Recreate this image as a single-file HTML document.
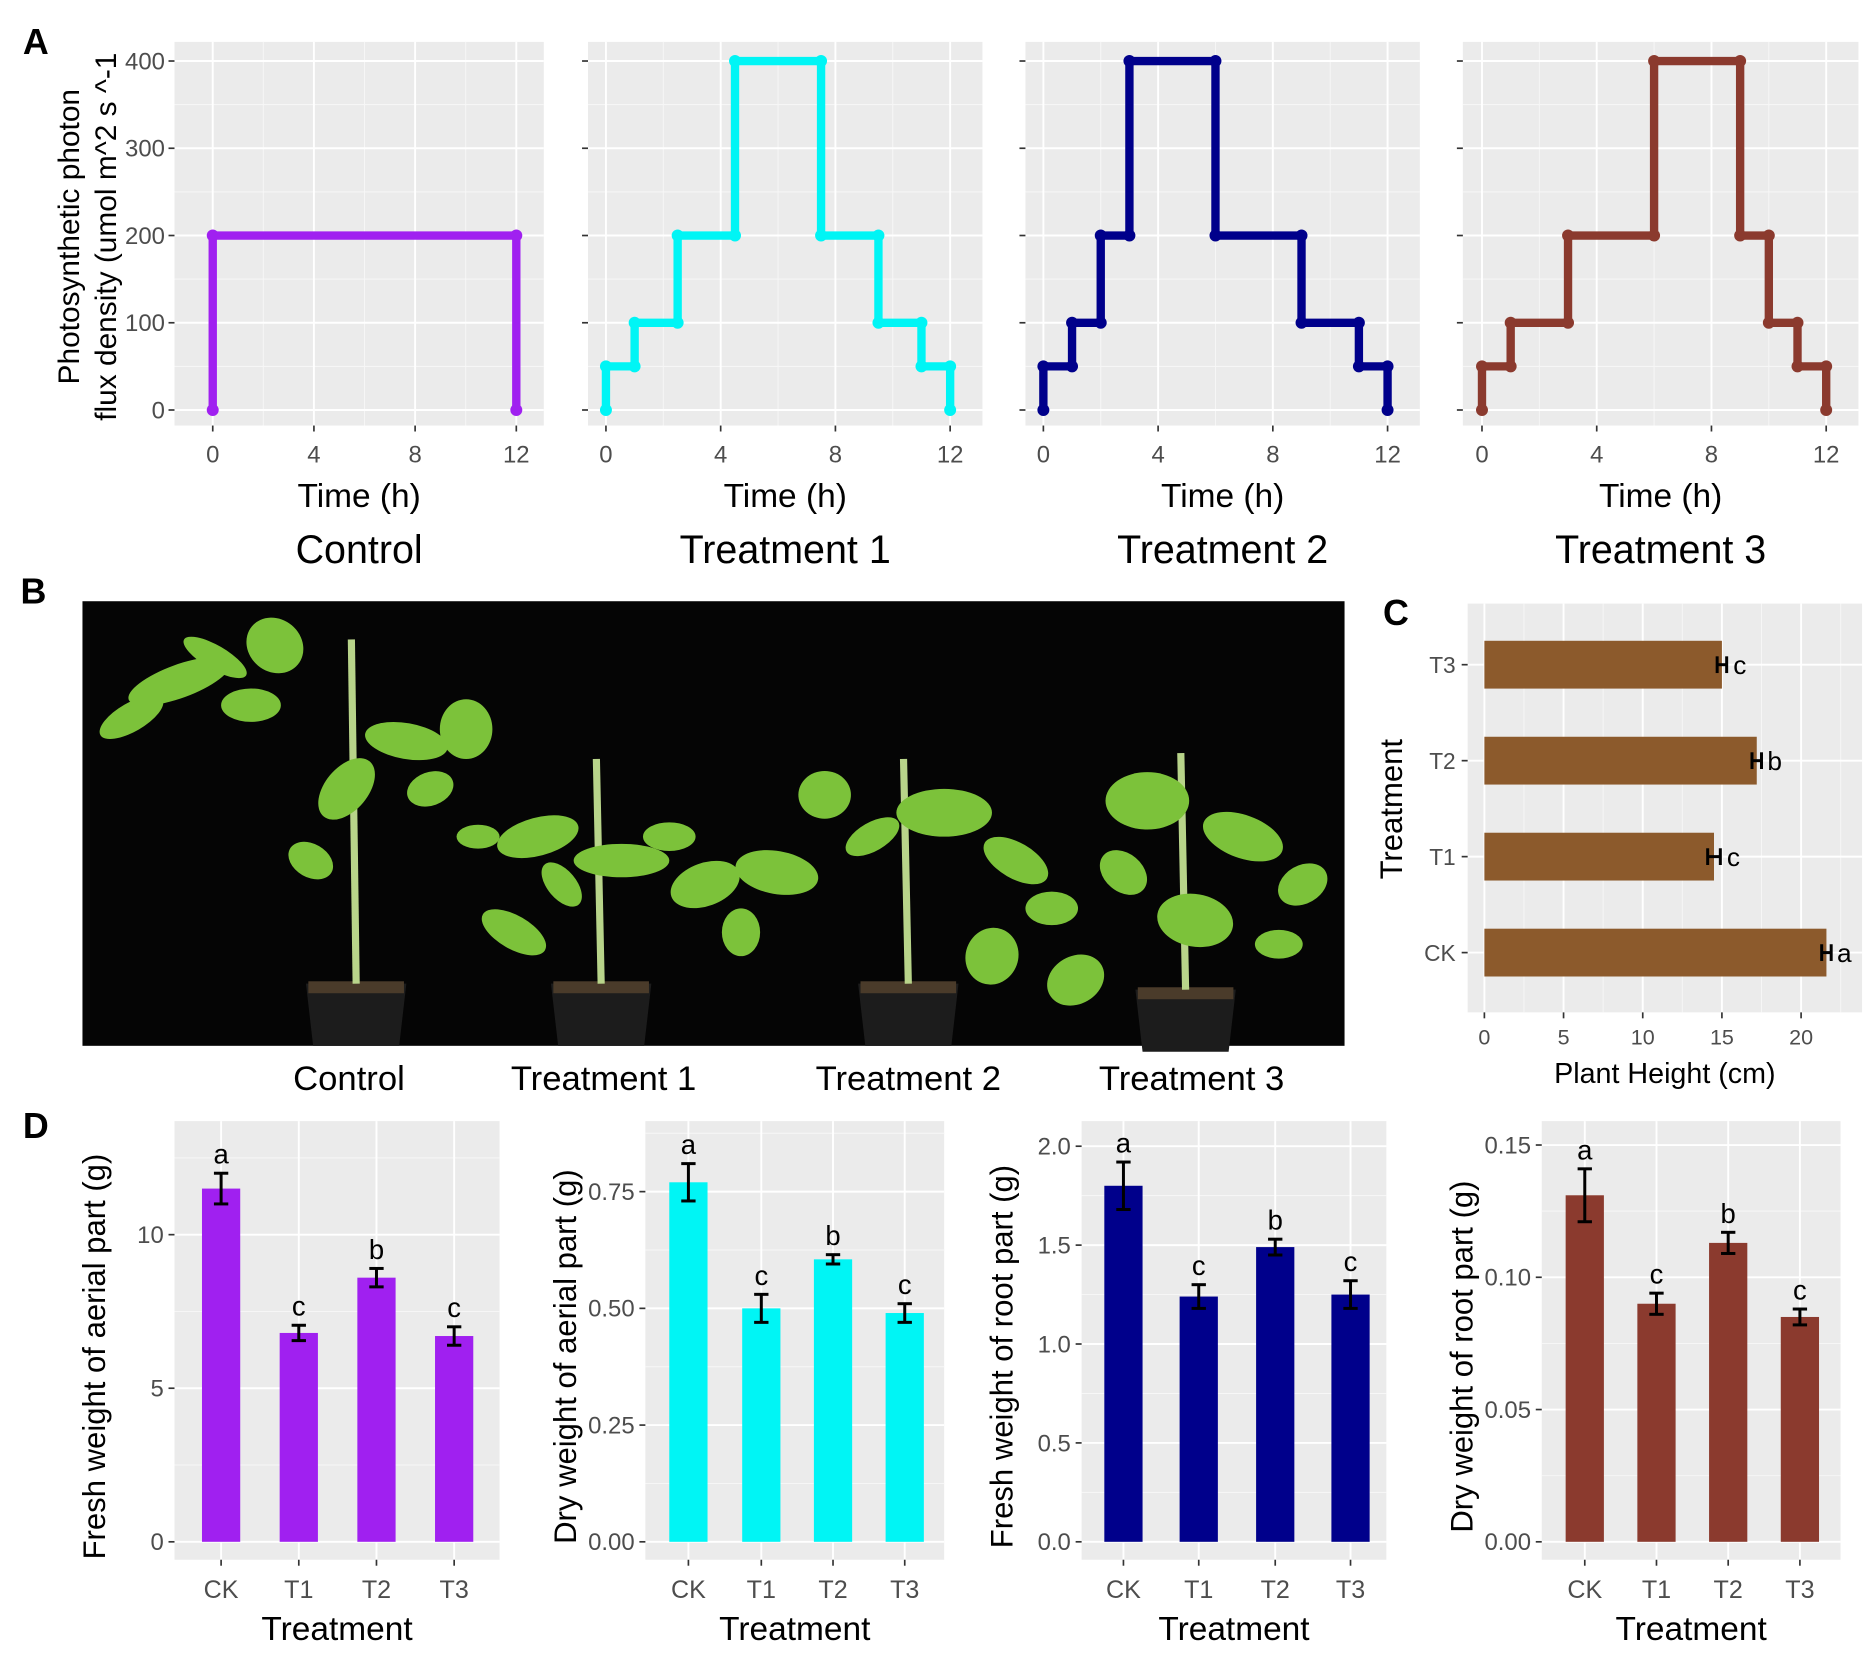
<!DOCTYPE html>
<html><head><meta charset="utf-8"><style>
html,body{margin:0;padding:0;background:#fff;}
svg{display:block;font-family:"Liberation Sans",sans-serif;}
</style></head><body>
<svg id="fig" width="1874" height="1659" viewBox="0 0 1568 1388" xmlns="http://www.w3.org/2000/svg"></svg>
<script>
// ---- Panel A data (light schedules: hour breakpoints and PPFD levels) ----
const aTitles = ["Control","Treatment 1","Treatment 2","Treatment 3"];
const aColors = ["#a020f0","#00f5f5","#00008b","#8b3a2e"];
const aTimes = [
  [0,12],
  [0,1,2.5,4.5,7.5,9.5,11,12],
  [0,1,2,3,6,9,11,12],
  [0,1,3,6,9,10,11,12]
];
const aLevels = [
  [200],
  [50,100,200,400,200,100,50],
  [50,100,200,400,200,100,50],
  [50,100,200,400,200,100,50]
];
const aYTicks = [0,100,200,300,400];
const aXTicks = [0,4,8,12];
// ---- Panel C data ----
const cCats = ["CK","T1","T2","T3"];
const cVals = [21.6,14.5,17.2,15.0];
const cErr = [0.3,0.4,0.3,0.3];
const cLetters = ["a","c","b","c"];
const cXTicks = [0,5,10,15,20];
// ---- Panel D data ----
const dCats = ["CK","T1","T2","T3"];
const dVals1 = [11.5,6.8,8.6,6.7];   const dErr1 = [0.5,0.25,0.3,0.3];
const dVals2 = [0.77,0.50,0.605,0.49]; const dErr2 = [0.04,0.03,0.01,0.02];
const dVals3 = [1.80,1.24,1.49,1.25];  const dErr3 = [0.12,0.06,0.04,0.07];
const dVals4 = [0.131,0.090,0.113,0.085]; const dErr4 = [0.010,0.004,0.004,0.003];
const dLetters1 = ["a","c","b","c"], dLetters2 = ["a","c","b","c"], dLetters3 = ["a","c","b","c"], dLetters4 = ["a","c","b","c"];
const dTicks1 = [0,5,10], dTicks2 = [0,0.25,0.5,0.75], dTicks3 = [0,0.5,1,1.5,2], dTicks4 = [0,0.05,0.1,0.15];
const dTickLbl1 = ["0","5","10"], dTickLbl2 = ["0.00","0.25","0.50","0.75"], dTickLbl3 = ["0.0","0.5","1.0","1.5","2.0"], dTickLbl4 = ["0.00","0.05","0.10","0.15"];
const dYTitles = ["Fresh weight of aerial part (g)","Dry weight of aerial part (g)","Fresh weight of root part (g)","Dry weight of root part (g)"];

const svg = document.getElementById('fig');
const NS = "http://www.w3.org/2000/svg";
function el(tag, attrs, parent){
  const e = document.createElementNS(NS, tag);
  for (const k in attrs) e.setAttribute(k, attrs[k]);
  (parent||svg).appendChild(e); return e;
}
function txt(x,y,s,size,anchor,parent,extra){
  const t = el('text',Object.assign({x:x,y:y,'font-size':size,'text-anchor':anchor||'middle',fill:'#000'},extra||{}),parent);
  t.textContent = s; return t;
}
function lin(a,b,c,d){ return v => c + (v-a)*(d-c)/(b-a); }

// panel letters
[["A",30,45],["B",28,505],["C",1168,523],["D",30,952]].forEach(p=>{
  const t = txt(p[1],p[2],p[0],30,'middle',null,{'font-weight':'bold'});
  
  
});

// ---------- Panel A ----------
const aPanels = [[146,455,178,432],[492,822,507,795],[858,1188,873,1161],[1224,1555,1240,1528]];
aPanels.forEach((p,i)=>{
  const g = el('g',{});
  
  
  const X = lin(0,12,p[2],p[3]), Y = lin(0,400,343,51);
  el('rect',{x:p[0],y:35,width:p[1]-p[0],height:321,fill:'#ebebeb'},g);
  [50,150,250,350].forEach(v=>el('line',{x1:p[0],x2:p[1],y1:Y(v),y2:Y(v),stroke:'#f7f7f7','stroke-width':0.8},g));
  [2,6,10].forEach(v=>el('line',{x1:X(v),x2:X(v),y1:35,y2:356,stroke:'#f7f7f7','stroke-width':0.8},g));
  aYTicks.forEach(v=>{
    el('line',{x1:p[0],x2:p[1],y1:Y(v),y2:Y(v),stroke:'#fff','stroke-width':1.6},g);
    el('line',{x1:p[0]-5,x2:p[0],y1:Y(v),y2:Y(v),stroke:'#333','stroke-width':1.4},g);
    if(i===0) txt(p[0]-8,Y(v)+7,String(v),20,'end',g,{fill:'#4d4d4d'});
  });
  aXTicks.forEach(v=>{
    el('line',{x1:X(v),x2:X(v),y1:35,y2:356,stroke:'#fff','stroke-width':1.6},g);
    el('line',{x1:X(v),x2:X(v),y1:356,y2:361,stroke:'#333','stroke-width':1.4},g);
    txt(X(v),387,String(v),20,'middle',g,{fill:'#4d4d4d'});
  });
  const t = aTimes[i], lv = aLevels[i];
  let pts = [[t[0],0]];
  for(let k=0;k<lv.length;k++){ pts.push([t[k],lv[k]]); pts.push([t[k+1],lv[k]]); }
  pts.push([t[t.length-1],0]);
  const d = pts.map((q,k)=>(k?'L':'M')+X(q[0]).toFixed(1)+','+Y(q[1]).toFixed(1)).join(' ');
  const path = el('path',{d:d,fill:'none',stroke:aColors[i],'stroke-width':7,'stroke-linejoin':'round','stroke-linecap':'round'},g);
  
  
  pts.forEach(q=>el('circle',{cx:X(q[0]),cy:Y(q[1]),r:5,fill:aColors[i]},g));
  txt((p[0]+p[1])/2,424,"Time (h)",28,'middle',g);
  const tt = txt((p[0]+p[1])/2,471,aTitles[i],33,'middle',g);
  
  
});
const ay = el('g',{});


txt(0,0,"Photosynthetic photon",25,'middle',ay,{transform:'translate(66,198) rotate(-90)'});
txt(0,0,"flux density (umol m^2 s ^-1",25,'middle',ay,{transform:'translate(97,198) rotate(-90)'});

// ---------- Panel B (photo sketch) ----------
const pb = el('g',{});


el('rect',{x:69,y:503,width:1056,height:372,fill:'#050505'},pb);
const plants = [[298,835,300],[503,835,200],[760,835,200],[992,840,210]];
plants.forEach(pl=>{
  const [cx,by,h]=pl;
  el('path',{d:`M${cx-42},${by-12} L${cx+42},${by-12} L${cx+36},${by+40} L${cx-36},${by+40}Z`,fill:'#1c1c1c'},pb);
  el('rect',{x:cx-40,y:by-14,width:80,height:10,fill:'#4a3b2a'},pb);
  el('line',{x1:cx,y1:by-12,x2:cx-4,y2:by-h,stroke:'#b8d48a','stroke-width':6},pb);
});
const leaves = [[150,570,45,14,-20],[230,540,25,22,40],[110,600,30,12,-30],[340,620,35,15,10],[390,610,22,25,0],[290,660,30,18,-50],
 [260,720,20,14,30],[450,700,35,16,-15],[520,720,40,14,0],[430,780,30,14,30],[590,740,30,18,-20],[650,730,35,18,10],[690,665,22,20,0],
 [790,680,40,20,0],[850,720,30,15,30],[830,800,22,24,20],[900,820,25,20,-30],[960,670,35,24,0],[1040,700,35,18,20],[1090,740,22,16,-30],
 [1000,770,32,22,10],[880,760,22,14,0],[210,590,25,14,0],[560,700,22,12,0],[180,550,30,10,30],[360,660,20,14,-20],[470,740,22,12,50],
 [730,700,25,12,-30],[940,730,22,16,40],[1070,790,20,12,0],[620,780,16,20,0],[400,700,18,10,0]];
leaves.forEach(l=>el('ellipse',{cx:l[0],cy:l[1],rx:l[2],ry:l[3],fill:'#7cc23a',transform:`rotate(${l[4]} ${l[0]} ${l[1]})`},pb));
[["Control",292],["Treatment 1",505],["Treatment 2",760],["Treatment 3",997]].forEach(s=>{
  const t=txt(s[1],912,s[0],29,'middle');
  
  
});

// ---------- Panel C ----------
(function(){
  const g = el('g',{});
  
  
  const L=1228,R=1558,T=505,B=847;
  const X = lin(0,20,1242,1507);
  const Yc = k => 797 - k*80.3;
  el('rect',{x:L,y:T,width:R-L,height:B-T,fill:'#ebebeb'},g);
  [2.5,7.5,12.5,17.5,22.5].forEach(v=>el('line',{x1:X(v),x2:X(v),y1:T,y2:B,stroke:'#f7f7f7','stroke-width':0.8},g));
  cXTicks.forEach(v=>{
    el('line',{x1:X(v),x2:X(v),y1:T,y2:B,stroke:'#fff','stroke-width':1.6},g);
    el('line',{x1:X(v),x2:X(v),y1:B,y2:B+5,stroke:'#333','stroke-width':1.4},g);
    txt(X(v),874,String(v),18,'middle',g,{fill:'#4d4d4d'});
  });
  cCats.forEach((c,k)=>{
    const y=Yc(k);
    el('line',{x1:L,x2:R,y1:y,y2:y,stroke:'#fff','stroke-width':1.6},g);
    el('line',{x1:L-5,x2:L,y1:y,y2:y,stroke:'#333','stroke-width':1.4},g);
    txt(L-10,y+7,c,19,'end',g,{fill:'#4d4d4d'});
  });
  cCats.forEach((c,k)=>{
    const y=Yc(k);
    const r=el('rect',{x:X(0),y:y-20,width:X(cVals[k])-X(0),height:40,fill:'#8c5a2c'},g);
    
    
    const e1=X(cVals[k]-cErr[k]),e2=X(cVals[k]+cErr[k]);
    el('line',{x1:e1,x2:e2,y1:y,y2:y,stroke:'#000','stroke-width':2.5},g);
    el('line',{x1:e1,x2:e1,y1:y-7,y2:y+7,stroke:'#000','stroke-width':2.5},g);
    el('line',{x1:e2,x2:e2,y1:y-7,y2:y+7,stroke:'#000','stroke-width':2.5},g);
    txt(e2+11,y+8,cLetters[k],22,'middle',g);
  });
  txt(1393,906,"Plant Height (cm)",24,'middle',g);
  txt(0,0,"Treatment",26,'middle',g,{transform:'translate(1173,677) rotate(-90)'});
})();

// ---------- Panel D ----------
const dSets = [
  {L:146,R:418,centers:[185,250,315,380],max:10,maxPx:1033,vals:dVals1,err:dErr1,let:dLetters1,ticks:dTicks1,tl:dTickLbl1,col:'#a020f0'},
  {L:540,R:790,centers:[576,637,697,757],max:0.75,maxPx:997,vals:dVals2,err:dErr2,let:dLetters2,ticks:dTicks2,tl:dTickLbl2,col:'#00f5f5'},
  {L:905,R:1160,centers:[940,1003,1067,1130],max:2,maxPx:959,vals:dVals3,err:dErr3,let:dLetters3,ticks:dTicks3,tl:dTickLbl3,col:'#00008b'},
  {L:1290,R:1540,centers:[1326,1386,1446,1506],max:0.15,maxPx:958,vals:dVals4,err:dErr4,let:dLetters4,ticks:dTicks4,tl:dTickLbl4,col:'#8b3a2e'}
];
dSets.forEach((s,i)=>{
  const g = el('g',{});
  
  
  const T=938,B=1305;
  const Y = lin(0,s.max,1290,s.maxPx);
  el('rect',{x:s.L,y:T,width:s.R-s.L,height:B-T,fill:'#ebebeb'},g);
  const step = s.ticks[1]-s.ticks[0];
  for(let v=step/2; Y(v)>T; v+=step) el('line',{x1:s.L,x2:s.R,y1:Y(v),y2:Y(v),stroke:'#f7f7f7','stroke-width':0.8},g);
  s.ticks.forEach((v,k)=>{
    el('line',{x1:s.L,x2:s.R,y1:Y(v),y2:Y(v),stroke:'#fff','stroke-width':1.6},g);
    el('line',{x1:s.L-5,x2:s.L,y1:Y(v),y2:Y(v),stroke:'#333','stroke-width':1.4},g);
    txt(s.L-9,Y(v)+7,s.tl[k],20,'end',g,{fill:'#4d4d4d'});
  });
  dCats.forEach((c,k)=>{
    const x=s.centers[k];
    el('line',{x1:x,x2:x,y1:T,y2:B,stroke:'#fff','stroke-width':1.6},g);
    el('line',{x1:x,x2:x,y1:B,y2:B+5,stroke:'#333','stroke-width':1.4},g);
    txt(x,1337,c,21,'middle',g,{fill:'#4d4d4d'});
    const r=el('rect',{x:x-16,y:Y(s.vals[k]),width:32,height:Y(0)-Y(s.vals[k]),fill:s.col},g);
    
    
    const hi=Y(s.vals[k]+s.err[k]), lo=Y(s.vals[k]-s.err[k]);
    el('line',{x1:x,x2:x,y1:hi,y2:lo,stroke:'#000','stroke-width':2.5},g);
    el('line',{x1:x-6,x2:x+6,y1:hi,y2:hi,stroke:'#000','stroke-width':2.5},g);
    el('line',{x1:x-6,x2:x+6,y1:lo,y2:lo,stroke:'#000','stroke-width':2.5},g);
    txt(x,hi-8,s.let[k],23,'middle',g);
  });
  txt((s.L+s.R)/2,1372,"Treatment",28,'middle',g);
  txt(0,0,dYTitles[i],26,'middle',g,{transform:`translate(${s.L-58},1135) rotate(-90)`});
});
</script>
</body></html>
